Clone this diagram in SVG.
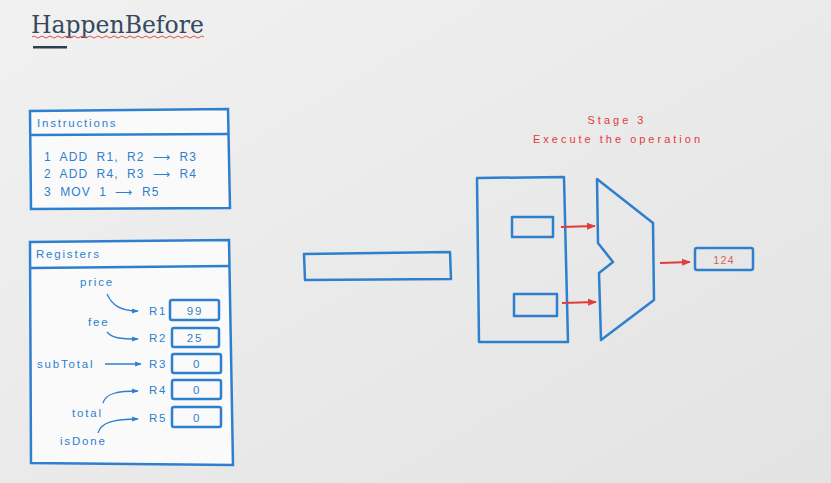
<svg xmlns="http://www.w3.org/2000/svg" width="831" height="483" viewBox="0 0 831 483">
<defs>
<linearGradient id="bg" x1="0" y1="0" x2="1" y2="1">
<stop offset="0" stop-color="#f1f1f1"/>
<stop offset="1" stop-color="#e3e3e3"/>
</linearGradient>
<marker id="ab" viewBox="0 0 10 10" refX="9" refY="5" markerWidth="5" markerHeight="5" orient="auto"><path d="M0,1 L10,5 L0,9 z" fill="#2f7fcf"/></marker>
<marker id="ar" viewBox="0 0 10 10" refX="9" refY="5" markerWidth="4" markerHeight="4" orient="auto"><path d="M0,1 L10,5 L0,9 z" fill="#e03c3a"/></marker>
<style>
.b{fill:none;stroke:#2f7fcf;stroke-width:2.5;stroke-linejoin:round}
.bf{fill:#fafafa;stroke:#2f7fcf;stroke-width:2.5}
.t{font-family:"Liberation Sans",Arial,sans-serif;fill:#2f7fcf;font-size:11.5px;letter-spacing:1.8px}
.tl{font-family:"Liberation Sans",Arial,sans-serif;fill:#2f7fcf;font-size:12px;letter-spacing:1.1px;word-spacing:4px}
.r{font-family:"Liberation Sans",Arial,sans-serif;fill:#e03c3a;font-size:11px;letter-spacing:3px;text-anchor:middle}
.c{fill:none;stroke:#2f7fcf;stroke-width:1.3}
.ra{fill:none;stroke:#e03c3a;stroke-width:2.2}
</style>
</defs>
<rect width="831" height="483" fill="url(#bg)"/>
<g id="title">
<text x="31" y="33" font-family="'DejaVu Serif','Liberation Serif',serif" font-size="23.5" fill="#34495e">HappenBefore</text>
<path d="M32,37 q2,-2 4,0 t4,0 t4,0 t4,0 t4,0 t4,0 t4,0 t4,0 t4,0 t4,0 t4,0 t4,0 t4,0 t4,0 t4,0 t4,0 t4,0 t4,0 t4,0 t4,0 t4,0 t4,0 t4,0 t4,0 t4,0 t4,0 t4,0 t4,0 t4,0 t4,0 t4,0 t4,0 t4,0 t4,0 t4,0 t4,0 t4,0 t4,0 t4,0 t4,0 t4,0 t4,0 t4,0" fill="none" stroke="#e05050" stroke-width="1"/>
<rect x="33" y="46" width="34" height="2.5" fill="#2c3e50"/>
</g>
<g id="instructions">
<path class="bf" d="M30,111 L228,109 L230,208 L31,209 Z"/>
<path class="b" d="M31,135 L229,134"/>
<text class="t" x="37" y="127">Instructions</text>
<text class="tl" x="44" y="161">1 ADD R1, R2 ⟶ R3</text>
<text class="tl" x="44" y="178">2 ADD R4, R3 ⟶ R4</text>
<text class="tl" x="44" y="196">3 MOV 1 ⟶ R5</text>
</g>
<g id="registers">
<path class="bf" d="M30,242 L229,240 L233,465 L31,463 Z"/>
<path class="b" d="M31,268 L230,266"/>
<text class="t" x="36" y="258">Registers</text>
<text class="t" x="80" y="286">price</text>
<text class="t" x="88" y="326">fee</text>
<text class="t" x="37" y="368">subTotal</text>
<text class="t" x="72" y="417">total</text>
<text class="t" x="60" y="445">isDone</text>
<text class="t" x="149" y="315">R1</text>
<text class="t" x="149" y="342">R2</text>
<text class="t" x="149" y="368">R3</text>
<text class="t" x="149" y="394">R4</text>
<text class="t" x="149" y="422">R5</text>
<rect class="b" x="170" y="300" width="49" height="20" rx="2"/>
<rect class="b" x="172" y="328" width="47" height="19" rx="2"/>
<rect class="b" x="172" y="354" width="49" height="19" rx="2"/>
<rect class="b" x="172" y="380" width="49" height="19" rx="2"/>
<rect class="b" x="172" y="407" width="49" height="20" rx="2"/>
<text class="t" x="195" y="315" text-anchor="middle">99</text>
<text class="t" x="195" y="342" text-anchor="middle">25</text>
<text class="t" x="197" y="368" text-anchor="middle">0</text>
<text class="t" x="197" y="394" text-anchor="middle">0</text>
<text class="t" x="197" y="422" text-anchor="middle">0</text>
</g>
<g id="buffer">
<path class="b" d="M304,254 L450,252 L451,279 L305,280 Z"/>
</g>
<g id="regfile">
<path class="b" d="M477,178 L564,177 L568,342 L479,342 Z"/>
<rect class="b" x="512" y="217" width="41" height="20"/>
<rect class="b" x="514" y="294" width="43" height="22"/>
</g>
<g id="alu">
<path class="b" d="M597,179 L653,223 L654,300 L601,340 L599,273 L613,262 L598,243 Z"/>
</g>
<g id="output">
<rect class="b" x="695" y="248" width="58" height="22" rx="2"/>
<text x="724" y="264" text-anchor="middle" font-family="'Liberation Sans',Arial,sans-serif" font-size="11" fill="#e06060" letter-spacing="1">124</text>
</g>
<g id="stage">
<text class="r" x="617" y="124">Stage 3</text>
<text class="r" x="618" y="143">Execute the operation</text>
</g>
<g id="connectors">
<path class="c" marker-end="url(#ab)" d="M107,294 C112,305 120,311 138,311"/>
<path class="c" marker-end="url(#ab)" d="M107,332 C112,338 120,339 138,339"/>
<path class="c" marker-end="url(#ab)" d="M105,364 L141,364"/>
<path class="c" marker-end="url(#ab)" d="M103,403 C106,393 118,391 138,391"/>
<path class="c" marker-end="url(#ab)" d="M98,433 C101,422 115,419 138,419"/>
<path class="ra" marker-end="url(#ar)" d="M561,227 L595,226"/>
<path class="ra" marker-end="url(#ar)" d="M562,303 L596,302"/>
<path class="ra" marker-end="url(#ar)" d="M660,263 L690,262"/>
</g>
</svg>
